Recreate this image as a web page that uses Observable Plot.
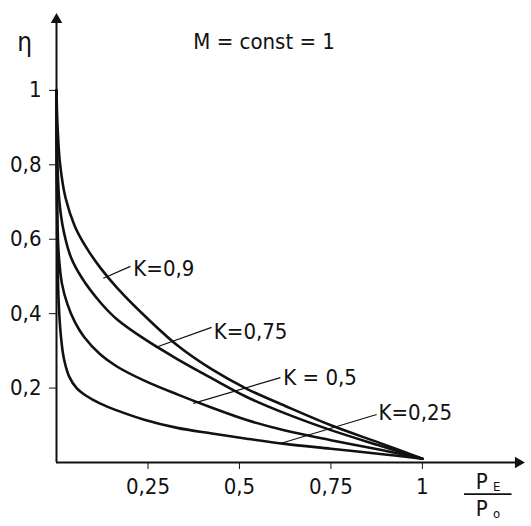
<!DOCTYPE html>
<html>
<head>
<meta charset="utf-8">
<script src="https://cdn.jsdelivr.net/npm/d3@7"></script>
<script src="https://cdn.jsdelivr.net/npm/@observablehq/plot@0.6"></script>
<style>
  html, body { margin: 0; padding: 0; background: #fff; }
</style>
</head>
<body>
<div id="chart"></div>
<script>
// Curve data: P_E/P_0 (x) and efficiency η (y)
const seriesNames = ["K=0,9", "K=0,75", "K = 0,5", "K=0,25"];
const x09 = [0, 0.003, 0.01, 0.025, 0.05, 0.08, 0.12, 0.165, 0.24, 0.33, 0.425, 0.52, 0.625, 0.75, 0.885, 1];
const y09 = [1, 0.90, 0.80, 0.71, 0.635, 0.58, 0.523, 0.47, 0.395, 0.315, 0.25, 0.198, 0.152, 0.10, 0.052, 0.01];
const x075 = [0, 0.002, 0.008, 0.02, 0.04, 0.07, 0.12, 0.165, 0.24, 0.33, 0.425, 0.52, 0.625, 0.75, 0.885, 1];
const y075 = [1, 0.82, 0.70, 0.62, 0.55, 0.495, 0.43, 0.385, 0.332, 0.278, 0.226, 0.176, 0.132, 0.087, 0.045, 0.01];
const x05 = [0, 0.002, 0.006, 0.015, 0.03, 0.05, 0.075, 0.12, 0.165, 0.24, 0.33, 0.425, 0.52, 0.625, 0.75, 0.885, 1];
const y05 = [1, 0.68, 0.56, 0.48, 0.425, 0.378, 0.338, 0.29, 0.258, 0.22, 0.183, 0.147, 0.114, 0.086, 0.06, 0.034, 0.01];
const x025 = [0, 0.002, 0.006, 0.012, 0.02, 0.035, 0.055, 0.08, 0.12, 0.165, 0.24, 0.33, 0.425, 0.52, 0.625, 0.75, 0.885, 1];
const y025 = [1, 0.60, 0.43, 0.34, 0.28, 0.23, 0.20, 0.18, 0.158, 0.14, 0.115, 0.093, 0.078, 0.064, 0.05, 0.037, 0.023, 0.01];

// Label anchor positions and leader lines (data units)
const labelX = [0.21, 0.43, 0.62, 0.88];
const labelY = [0.52, 0.35, 0.226, 0.132];
const leadX1 = [0.202, 0.424, 0.612, 0.875];
const leadY1 = [0.527, 0.363, 0.228, 0.129];
const leadX2 = [0.128, 0.27, 0.374, 0.612];
const leadY2 = [0.495, 0.309, 0.159, 0.051];

const xTicks = [0.25, 0.5, 0.75, 1];
const yTicks = [0.2, 0.4, 0.6, 0.8, 1];
const titleText = "M = const = 1";

const xs = [x09, x075, x05, x025];
const ys = [y09, y075, y05, y025];
const rows = seriesNames.flatMap((k, i) => xs[i].map((x, j) => ({k, x, y: ys[i][j]})));
const labels = seriesNames.map((k, i) => ({k, x: labelX[i], y: labelY[i], x1: leadX1[i], y1: leadY1[i], x2: leadX2[i], y2: leadY2[i]}));

const fmt = d => String(d).replace(".", ",");
const FONT = "'DejaVu Sans Condensed', 'DejaVu Sans', sans-serif";

const chart = Plot.plot({
  width: 531,
  height: 526,
  marginLeft: 56,
  marginRight: 3,
  marginTop: 8,
  marginBottom: 64,
  style: {fontFamily: FONT, fontSize: "22px", color: "#111", background: "#fff"},
  x: {domain: [0, 1.29], ticks: xTicks, tickFormat: fmt, tickSize: 7, tickPadding: 9, label: null},
  y: {domain: [0, 1.22], ticks: yTicks, tickFormat: fmt, tickSize: 7, tickPadding: 8, label: null},
  marks: [
    Plot.ruleX([0], {y1: 0, y2: 1.19, stroke: "#111", strokeWidth: 2}),
    Plot.ruleY([0], {x1: 0, x2: 1.26, stroke: "#111", strokeWidth: 2}),
    Plot.dot([{x: 0, y: 1.19}], {x: "x", y: "y", symbol: "triangle2", r: 5.5, fill: "#111", stroke: null}),
    Plot.dot([{x: 1.262, y: 0}], {x: "x", y: "y", symbol: "triangle2", r: 5.5, rotate: 90, fill: "#111", stroke: null}),
    Plot.line(rows, {x: "x", y: "y", z: "k", curve: "catmull-rom", stroke: "#111", strokeWidth: 2.6}),
    Plot.link(labels, {x1: "x1", y1: "y1", x2: "x2", y2: "y2", stroke: "#111", strokeWidth: 1.2}),
    Plot.text(labels, {x: "x", y: "y", text: "k", textAnchor: "start", fontSize: 22, fill: "#111"}),
    Plot.text([titleText], {x: 0.374, y: 1.129, textAnchor: "start", fontSize: 22, fill: "#111"}),
    Plot.text(["η"], {x: -0.087, y: 1.129, fontSize: 26, fill: "#111"}),
    // P_E / P_0 axis label
    Plot.text(["P"], {x: 1.162, y: -0.051, fontSize: 22, fill: "#111"}),
    Plot.text(["E"], {x: 1.203, y: -0.066, fontSize: 13, fill: "#111"}),
    Plot.ruleY([-0.085], {x1: 1.115, x2: 1.245, stroke: "#111", strokeWidth: 1.6}),
    Plot.text(["P"], {x: 1.162, y: -0.124, fontSize: 22, fill: "#111"}),
    Plot.text(["o"], {x: 1.203, y: -0.138, fontSize: 13, fill: "#111"})
  ]
});
document.getElementById("chart").appendChild(chart);
</script>
</body>
</html>
